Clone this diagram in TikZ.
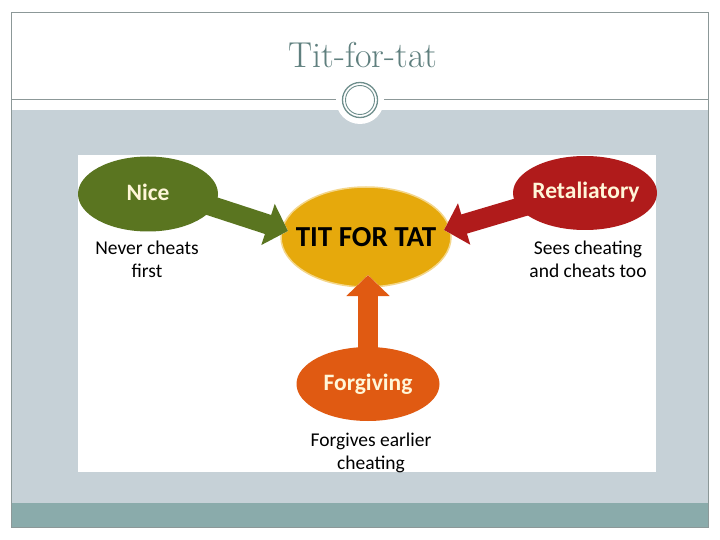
\documentclass[tikz,border=0pt]{standalone}
\usepackage{fontspec}
\newfontfamily\carlito{Carlito}
\usetikzlibrary{shapes.geometric,arrows.meta}
\definecolor{bandgray}{HTML}{C6D1D7}
\definecolor{bandteal}{HTML}{8AABAB}
\definecolor{framegray}{HTML}{8C9898}
\definecolor{ringcol}{HTML}{6E8E8C}
\definecolor{titlecol}{HTML}{5F7F7E}
\definecolor{niceg}{HTML}{5A7520}
\definecolor{tftc}{HTML}{E6A90C}
\definecolor{tftb}{HTML}{F4D68A}
\definecolor{retc}{HTML}{B01B1B}
\definecolor{forc}{HTML}{E05A12}
\definecolor{cream}{HTML}{FFF6D8}
\tikzset{
  ell/.style={ellipse, inner sep=0pt},
  elltext/.style={font=\carlito\bfseries\fontsize{23.5}{28}\selectfont, text=cream},
  desc/.style={font=\carlito\fontsize{19.5}{23}\selectfont, align=center, text=black},
  fat/.style={line width=20pt, -{Triangle[length=21pt,width=42pt]}},
  fatout/.style={line width=23pt, draw=white, -{Triangle[length=23pt,width=47pt]}}
}
\begin{document}
\begin{tikzpicture}[x=1pt,y=-1pt]
\useasboundingbox (0,0) rectangle (720,540);
\fill[white] (0,0) rectangle (720,540);
\fill[bandgray] (11,110) rectangle (708,503);
\fill[bandteal] (11,503) rectangle (708,527);
\draw[framegray, line width=0.8pt] (11,12) rectangle (708,527);
\draw[framegray, line width=1pt] (11,100) -- (708,100);
\fill[white] (360,100) circle (24);
\draw[ringcol, line width=1.3pt] (360,100) circle (17.5);
\draw[ringcol, line width=0.9pt] (360,100) circle (14.5);
\node[font=\fontsize{36}{40}\selectfont, text=titlecol] (title) at (363,55) {Tit-for-tat};
\fill[white] (78,155) rectangle (656,472);

\node[ell, fill=tftc, draw=tftb, line width=1.5pt, minimum width=170pt, minimum height=100pt] (tft) at (366,237) {};
\coordinate (nicetip) at (288,231);
\coordinate (rettip) at (444,230);
\coordinate (fortip) at (368,275);
\coordinate (nicetail) at (190,199);
\coordinate (rettail) at (545,200);
\coordinate (fortail) at (368,370);

\draw[fatout] (nicetail) -- (nicetip);
\draw[fatout] (rettail) -- (rettip);
\draw[fatout] (fortail) -- (fortip);
\draw[fat, draw=niceg, fill=niceg] (nicetail) -- (nicetip);
\draw[fat, draw=retc, fill=retc] (rettail) -- (rettip);
\draw[fat, draw=forc, fill=forc] (fortail) -- (fortip);

\node[ell, fill=niceg, minimum width=140pt, minimum height=75pt] (nice) at (148,194) {};
\node[ell, fill=retc, minimum width=144pt, minimum height=74pt] (ret) at (585,193) {};
\node[ell, fill=forc, minimum width=143pt, minimum height=74pt] (for) at (368,384) {};

\node[elltext] (nicel) at (148,192) {Nice};
\node[elltext] (retl) at (586,192) {Retaliatory};
\node[elltext] (forl) at (368,384) {Forgiving};
\node[font=\carlito\bfseries\fontsize{29}{32}\selectfont, text=black] (tftl) at (366,237) {TIT FOR TAT};

\node[desc] (niced) at (147,259) {Never cheats\\first};
\node[desc] (retd) at (588,259) {Sees cheating\\and cheats too};
\node[desc] (ford) at (371,453) {Forgives earlier\\cheating};
\end{tikzpicture}
\end{document}
